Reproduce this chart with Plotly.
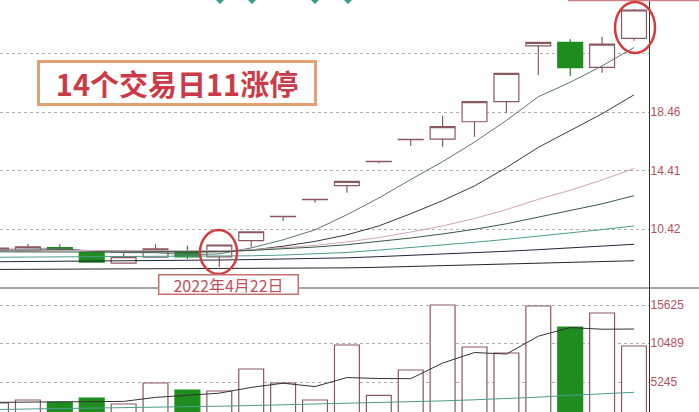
import plotly.graph_objects as go

# ---------------- data ----------------
dates = ["2022-04-13", "2022-04-14", "2022-04-15", "2022-04-18", "2022-04-19",
         "2022-04-20", "2022-04-21", "2022-04-22", "2022-04-25", "2022-04-26",
         "2022-04-27", "2022-04-28", "2022-04-29", "2022-05-05", "2022-05-06",
         "2022-05-09", "2022-05-10", "2022-05-11", "2022-05-12", "2022-05-13",
         "2022-05-16"]

open_ = [8.98, 8.94, 9.14, 8.82, 8.08, 8.48, 8.82, 8.50, 9.62, 11.27, 12.44,
         13.40, 15.05, 16.56, 16.60, 17.79, 19.17, 23.00, 23.25, 21.53, 23.52]
high = [9.15, 9.39, 9.37, 8.85, 8.75, 9.37, 9.27, 9.32, 10.23, 11.29, 12.46,
        13.70, 15.07, 16.58, 18.21, 19.17, 21.12, 23.25, 23.48, 23.63, 25.54]
low = [8.95, 8.94, 9.00, 8.12, 8.08, 8.45, 8.36, 7.81, 9.18, 10.97, 12.23,
       12.91, 14.94, 16.12, 16.08, 16.76, 18.37, 21.00, 20.93, 21.16, 23.36]
close = [9.11, 9.20, 9.01, 8.15, 8.52, 9.05, 8.50, 9.32, 10.23, 11.29, 12.46,
         13.70, 15.07, 16.58, 17.45, 19.17, 21.12, 23.25, 21.50, 23.13, 25.47]

ma5 = [9.02, 9.05, 9.06, 8.90, 8.80, 8.79, 8.65, 8.71, 9.12, 9.68, 10.36,
       11.40, 12.55, 13.82, 15.05, 16.39, 17.88, 19.51, 20.50, 21.63, 22.89]
ma10 = [8.95, 8.97, 8.98, 8.94, 8.90, 8.89, 8.85, 8.88, 8.97, 9.24, 9.57,
        10.02, 10.63, 11.47, 12.37, 13.38, 14.64, 16.03, 17.16, 18.34, 19.64]
ma20 = [8.98, 8.98, 8.97, 8.94, 8.92, 8.92, 8.90, 8.94, 9.00, 9.12, 9.29,
        9.53, 9.83, 10.21, 10.63, 11.14, 11.75, 12.46, 13.08, 13.79, 14.58]
ma30 = [8.85, 8.86, 8.86, 8.84, 8.83, 8.84, 8.83, 8.85, 8.95, 9.05, 9.18,
        9.34, 9.55, 9.80, 10.08, 10.40, 10.78, 11.22, 11.66, 12.15, 12.71]
ma60 = [8.48, 8.49, 8.50, 8.50, 8.51, 8.52, 8.52, 8.54, 8.58, 8.63, 8.70,
        8.81, 8.97, 9.14, 9.32, 9.51, 9.71, 9.92, 10.14, 10.38, 10.63]
ma120 = [8.17, 8.18, 8.20, 8.21, 8.23, 8.25, 8.27, 8.29, 8.32, 8.35, 8.39,
         8.44, 8.52, 8.60, 8.69, 8.79, 8.89, 9.00, 9.11, 9.24, 9.37]
ma250 = [7.64, 7.65, 7.65, 7.66, 7.66, 7.67, 7.68, 7.69, 7.70, 7.71, 7.72,
         7.75, 7.79, 7.84, 7.89, 7.94, 7.99, 8.05, 8.11, 8.17, 8.24]

volume = [2415, 2819, 2550, 3089, 2280, 5111, 4167, 4032, 6998, 5111, 2819,
          10233, 3437, 6863, 15625, 9963, 9155, 15490, 12659, 14547, 10098]
vol_ma5 = [2500, 2550, 2500, 2600, 2630, 3170, 3440, 3740, 4520, 5080, 4630,
           5840, 5720, 5690, 7800, 9220, 9010, 11420, 12580, 12360, 12390]
vol_ma10 = [1540, 1590, 1640, 1700, 1760, 1830, 1900, 1980, 2070, 2160, 2250,
            2350, 2450, 2560, 2700, 2850, 3000, 3200, 3450, 3700, 3860]

price_ticks = [10.42, 14.41, 18.46, 22.51]
price_tick_text = ["10.42", "14.41", "18.46", ""]
vol_ticks = [5245, 10489, 15625]
vol_tick_text = ["5245", "10489", "15625"]

title_text = "14个交易日11涨停"
date_text = "2022年4月22日"

# ---------------- styles ----------------
UP = "#8b5860"
DOWN = "#1e8c1e"
LABEL = "#b5505c"

fig = go.Figure()

fig.add_trace(go.Candlestick(
    x=dates, open=open_, high=high, low=low, close=close,
    increasing=dict(line=dict(color=UP, width=1.2), fillcolor="white"),
    decreasing=dict(line=dict(color=DOWN, width=1.2), fillcolor=DOWN),
    whiskerwidth=0, xaxis="x", yaxis="y", hoverinfo="skip"))

ma_specs = [(ma5, "#5e7478"), (ma10, "#3a3a3a"), (ma20, "#d0a6b8"),
            (ma30, "#355c3f"), (ma60, "#4d9c8e"), (ma120, "#1e2638"),
            (ma250, "#262626")]
for vals, col in ma_specs:
    fig.add_trace(go.Scatter(x=dates, y=vals, mode="lines",
                             line=dict(color=col, width=1),
                             xaxis="x", yaxis="y", hoverinfo="skip"))

bar_fill = [DOWN if c < o else "white" for o, c in zip(open_, close)]
bar_line = [DOWN if c < o else UP for o, c in zip(open_, close)]
fig.add_trace(go.Bar(x=dates, y=volume,
                     marker=dict(color=bar_fill, line=dict(color=bar_line, width=1.2)),
                     xaxis="x", yaxis="y2", hoverinfo="skip"))
fig.add_trace(go.Scatter(x=dates, y=vol_ma5, mode="lines",
                         line=dict(color="#333333", width=1),
                         xaxis="x", yaxis="y2", hoverinfo="skip"))
fig.add_trace(go.Scatter(x=dates, y=vol_ma10, mode="lines",
                         line=dict(color="#4d9c8e", width=1),
                         xaxis="x", yaxis="y2", hoverinfo="skip"))

W, H = 699, 412
PW = 649.0  # plot area width in px
split = 1 - 288 / H

shapes = [
    # panel separator
    dict(type="line", xref="paper", yref="paper", x0=0, x1=W / PW, y0=split, y1=split,
         line=dict(color="#4a4a4a", width=1)),
    # red top edge at upper right
    dict(type="line", xref="paper", yref="paper", x0=568 / PW, x1=W / PW, y0=0.999, y1=0.999,
         line=dict(color="#d08080", width=1.5)),
    # circles
    dict(type="circle", xref="paper", yref="paper", x0=200 / PW, x1=237 / PW,
         y0=1 - 274 / H, y1=1 - 230 / H, line=dict(color="#d63a3a", width=2.5)),
    dict(type="circle", xref="paper", yref="paper", x0=615 / PW, x1=655 / PW,
         y0=1 - 53 / H, y1=1 - 2 / H, line=dict(color="#d63a3a", width=2.5)),
]
for cx in [220, 252, 315, 348]:
    x0, x1, xm = (cx - 4) / PW, (cx + 4) / PW, cx / PW
    shapes.append(dict(type="path", xref="paper", yref="paper",
                       path=f"M {x0},1 L {x1},1 L {xm},{1 - 4 / H} Z",
                       fillcolor="#3a9a8c", line=dict(width=0)))

annotations = [
    dict(text=title_text, xref="paper", yref="paper", x=177 / PW, y=1 - 83 / H,
         xanchor="center", yanchor="middle",
         showarrow=False, width=272, height=38, borderpad=1, borderwidth=3,
         bordercolor="#e3a072", bgcolor="white",
         font=dict(family="Noto Sans CJK SC", size=29, color="#cc3a48", weight="bold")),
    dict(text=date_text, xref="paper", yref="paper", x=228.5 / PW, y=1 - 284 / H,
         xanchor="center", yanchor="middle",
         showarrow=False, width=136, height=16, borderpad=1, borderwidth=1.5,
         bordercolor="#c87070", bgcolor="white",
         font=dict(family="Noto Sans CJK SC", size=16, color="#c0505a")),
]

axis_font = dict(family="Liberation Sans", size=12, color=LABEL)

fig.update_layout(
    width=W, height=H,
    margin=dict(l=0, r=W - PW, t=0, b=0),
    paper_bgcolor="white", plot_bgcolor="white",
    showlegend=False, boxgap=0.22, boxgroupgap=0, bargap=0.22,
    xaxis=dict(type="category", range=[0.125, 20.47], showticklabels=False,
               showgrid=False, zeroline=False, anchor="y2", showline=False,
               rangeslider=dict(visible=False), fixedrange=True),
    yaxis=dict(domain=[split, 1], range=[6.366, 26.157], side="right",
               tickvals=price_ticks, ticktext=price_tick_text,
               showgrid=True, gridcolor="#b0b0b0", griddash="dot", gridwidth=1,
               showline=True, linecolor="#333333", linewidth=1.2,
               ticks="", tickfont=axis_font, zeroline=False, fixedrange=True,
               ticklabelstandoff=-2),
    yaxis2=dict(domain=[0, split], range=[1201, 17917], side="right",
                tickvals=vol_ticks, ticktext=vol_tick_text,
                showgrid=True, gridcolor="#b0b0b0", griddash="dot", gridwidth=1,
                showline=True, linecolor="#333333", linewidth=1.2,
                ticks="", tickfont=axis_font, zeroline=False, fixedrange=True,
                ticklabelstandoff=-2),
    shapes=shapes, annotations=annotations,
)

fig.write_html("out.html", config={"displayModeBar": False},
               post_script="document.body.style.margin='0';document.body.style.overflow='hidden';")
